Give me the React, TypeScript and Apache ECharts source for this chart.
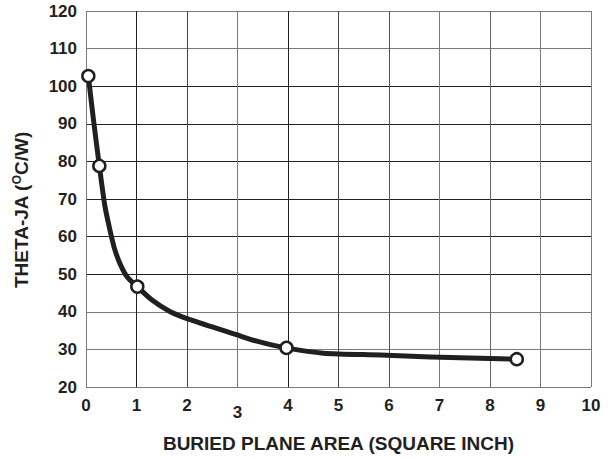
import React, { useEffect, useRef } from "react";
import * as echarts from "echarts";

const curveX = [0.046, 0.145, 0.264, 0.376, 0.47, 0.56, 0.68, 0.82, 1.016, 1.3, 1.66, 2.06, 2.98, 3.38, 3.97, 4.7, 5.83, 6.82, 8.53];
const curveY = [102.7, 91.4, 78.8, 68.0, 62.0, 57.0, 52.6, 49.2, 46.7, 43.2, 40.1, 37.9, 33.9, 32.2, 30.4, 29.0, 28.5, 28.0, 27.4];
const markerX = [0.046, 0.264, 1.016, 3.97, 8.53];
const markerY = [102.7, 78.8, 46.7, 30.4, 27.4];
const xTitle = "BURIED PLANE AREA (SQUARE INCH)";
const yTitleMain = "THETA-JA (";
const yTitleSup = "O";
const yTitleEnd = "C/W)";

const FONT = "'Liberation Sans', Arial, sans-serif";
const DARK = "#231f20";

export default function App() {
  const ref = useRef<HTMLDivElement>(null);
  useEffect(() => {
    if (!ref.current) return;
    const chart = echarts.init(ref.current, undefined, { renderer: "svg" });
    const curve = curveX.map((x, i) => [x, curveY[i]]);
    const markers = markerX.map((x, i) => [x, markerY[i]]);
    chart.setOption({
      animation: false,
      backgroundColor: "#fff",
      grid: { left: 86, right: 23, top: 11, bottom: 72, containLabel: false },
      xAxis: {
        type: "value",
        min: 0,
        max: 10,
        interval: 1,
        axisLine: { show: false },
        axisTick: { show: false },
        splitLine: {
          show: true,
          lineStyle: {
            width: 1,
            color: ["#7a7a7a", "#222", "#444", "#7a7a7a", "#222", "#444", "#555", "#7a7a7a", "#666", "#7a7a7a", "#7a7a7a"],
          },
        },
        axisLabel: {
          margin: 10,
          fontFamily: FONT,
          fontWeight: "bold",
          fontSize: 17,
          color: DARK,
          formatter: (v: number) => (v === 3 ? "{low|3}" : String(v)),
          rich: { low: { fontFamily: FONT, fontWeight: "bold", fontSize: 17, color: DARK, padding: [7, 0, 0, 0] } },
        },
        name: xTitle,
        nameLocation: "middle",
        nameGap: 47,
        nameTextStyle: { fontFamily: FONT, fontWeight: "bold", fontSize: 19, color: DARK },
      },
      yAxis: {
        type: "value",
        min: 20,
        max: 120,
        interval: 10,
        axisLine: { show: false },
        axisTick: { show: false },
        splitLine: {
          show: true,
          lineStyle: {
            width: 1,
            color: ["#7a7a7a", "#7a7a7a", "#7a7a7a", "#222", "#222", "#222", "#222", "#222", "#222", "#7a7a7a", "#7a7a7a"],
          },
        },
        axisLabel: {
          margin: 9,
          fontFamily: FONT,
          fontWeight: "bold",
          fontSize: 17,
          color: DARK,
        },
      },
      graphic: [
        {
          type: "text",
          x: 21,
          y: 210,
          rotation: Math.PI / 2,
          style: {
            text: `{a|${yTitleMain}}{s|${yTitleSup}}{a|${yTitleEnd}}`,
            align: "center",
            verticalAlign: "middle",
            rich: {
              a: { fontFamily: FONT, fontWeight: "bold", fontSize: 19, fill: DARK },
              s: { fontFamily: FONT, fontWeight: "bold", fontSize: 12, fill: DARK, padding: [0, 0, 9, 0] },
            },
          },
        },
      ],
      series: [
        {
          type: "line",
          data: curve,
          smooth: 0.25,
          showSymbol: false,
          symbol: "none",
          lineStyle: { color: DARK, width: 5, join: "round", cap: "round" },
          z: 2,
        },
        {
          type: "line",
          data: markers,
          lineStyle: { width: 0, opacity: 0 },
          symbol: "circle",
          symbolSize: 12,
          showSymbol: true,
          itemStyle: { color: "#fff", borderColor: DARK, borderWidth: 2.5 },
          z: 3,
        },
      ],
    });
    return () => chart.dispose();
  }, []);
  return <div ref={ref} style={{ width: 614, height: 459, position: "absolute", left: 0, top: 0 }} />;
}
